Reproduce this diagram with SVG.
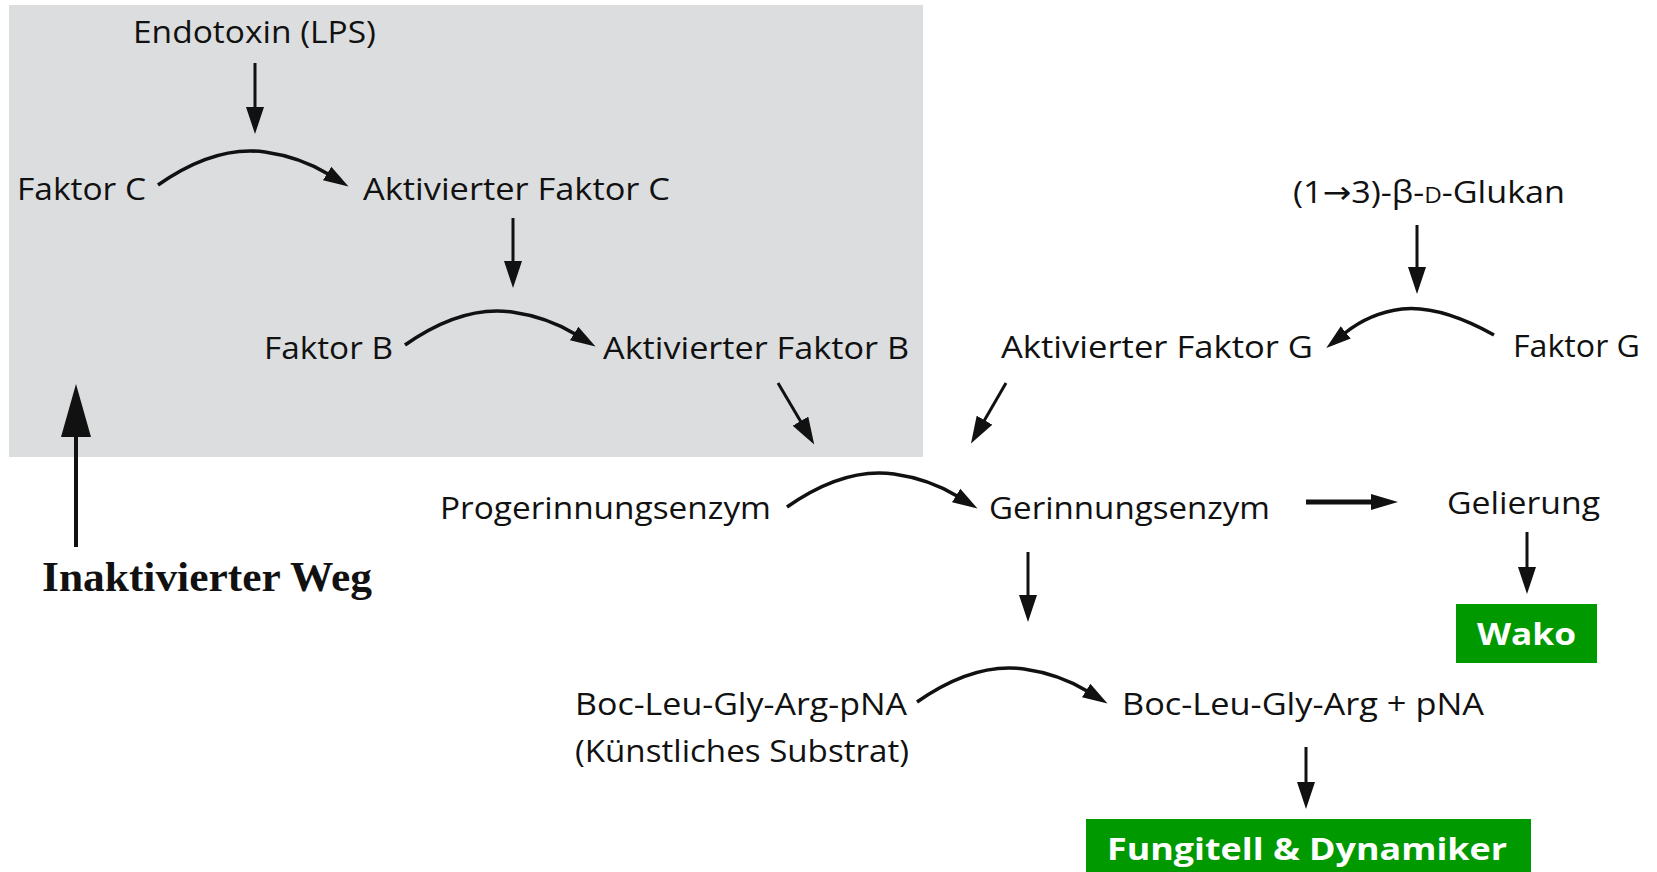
<svg xmlns="http://www.w3.org/2000/svg" width="1657" height="872" viewBox="0 0 1657 872">
<style>
.t{font-family:"Open Sans","Noto Sans","DejaVu Sans",sans-serif;font-size:31px;fill:#111;}
.b{font-family:"Open Sans","Noto Sans","DejaVu Sans",sans-serif;font-size:31px;font-weight:bold;fill:#fff;}
.s{font-family:"Liberation Serif","Times New Roman",serif;font-size:43px;font-weight:bold;fill:#111;}
.ln{fill:none;stroke:#111;stroke-width:3;}
.cv{fill:none;stroke:#111;stroke-width:3.5;}
.box{fill:#009a00;}
</style>
<defs>
<marker id="ah" markerUnits="userSpaceOnUse" markerWidth="28" markerHeight="18" refX="1" refY="9" orient="auto"><path d="M0,0 L27,9 L0,18 z" fill="#111"/></marker>
<marker id="ahc" markerUnits="userSpaceOnUse" markerWidth="27" markerHeight="18" refX="1" refY="9" orient="auto"><path d="M0,1 L25,9 L0,17 z" fill="#111"/></marker>
<marker id="ahb" markerUnits="userSpaceOnUse" markerWidth="54" markerHeight="30" refX="1" refY="15" orient="auto"><path d="M0,0 L53,15 L0,30 z" fill="#111"/></marker>
<marker id="aht" markerUnits="userSpaceOnUse" markerWidth="28" markerHeight="16" refX="1" refY="8" orient="auto"><path d="M0,0 L27,8 L0,16 z" fill="#111"/></marker>
</defs>
<rect id="inactive-area" x="9" y="5" width="914" height="452" fill="#dcdddf"/>
<g id="connectors">
<path class="ln" d="M255,63 V108" marker-end="url(#ah)"/>
<path class="ln" d="M513,218 V262" marker-end="url(#ah)"/>
<path class="ln" d="M778,383 L801,422" marker-end="url(#ah)"/>
<path class="ln" d="M1417,225 V268" marker-end="url(#ah)"/>
<path class="ln" d="M1006,383 L984,421" marker-end="url(#ah)"/>
<path class="ln" d="M1028,552 V596" marker-end="url(#ah)"/>
<path class="ln" d="M1527,532 V568" marker-end="url(#ah)"/>
<path class="ln" d="M1306,747 V783" marker-end="url(#ah)"/>
<path class="ln" style="stroke-width:5" d="M1306,502 H1372" marker-end="url(#aht)"/>
<path class="ln" style="stroke-width:4" d="M76,547 V436" marker-end="url(#ahb)"/>
<path class="cv" d="M158,185 Q215,145 265,152 Q300,157 328,174" marker-end="url(#ahc)"/>
<path class="cv" d="M405,345 Q462,305 512,312 Q547,317 575,334" marker-end="url(#ahc)"/>
<path class="cv" d="M787,507 Q844,467 894,474 Q929,479 957,496" marker-end="url(#ahc)"/>
<path class="cv" d="M917,702 Q974,662 1024,669 Q1059,674 1087,691" marker-end="url(#ahc)"/>
<path class="cv" d="M1494,335 Q1440,305 1402,309 Q1370,313 1345,333" marker-end="url(#ahc)"/>
</g>
<g id="endotoxin"><text class="t" x="133" y="43" textLength="243" lengthAdjust="spacingAndGlyphs">Endotoxin (LPS)</text></g>
<g id="faktor-c"><text class="t" x="17" y="200" textLength="129" lengthAdjust="spacingAndGlyphs">Faktor C</text></g>
<g id="akt-faktor-c"><text class="t" x="363" y="200" textLength="307" lengthAdjust="spacingAndGlyphs">Aktivierter Faktor C</text></g>
<g id="faktor-b"><text class="t" x="264" y="359" textLength="129" lengthAdjust="spacingAndGlyphs">Faktor B</text></g>
<g id="akt-faktor-b"><text class="t" x="603" y="359" textLength="306" lengthAdjust="spacingAndGlyphs">Aktivierter Faktor B</text></g>
<g id="glukan"><text class="t" x="1293" y="203" textLength="272" lengthAdjust="spacingAndGlyphs">(1→3)-β-<tspan font-size="22">D</tspan>-Glukan</text></g>
<g id="akt-faktor-g"><text class="t" x="1001" y="358" textLength="312" lengthAdjust="spacingAndGlyphs">Aktivierter Faktor G</text></g>
<g id="faktor-g"><text class="t" x="1513" y="357" textLength="127" lengthAdjust="spacingAndGlyphs">Faktor G</text></g>
<g id="progerinnungsenzym"><text class="t" x="440" y="519" textLength="331" lengthAdjust="spacingAndGlyphs">Progerinnungsenzym</text></g>
<g id="gerinnungsenzym"><text class="t" x="989" y="519" textLength="281" lengthAdjust="spacingAndGlyphs">Gerinnungsenzym</text></g>
<g id="gelierung"><text class="t" x="1447" y="514" textLength="153" lengthAdjust="spacingAndGlyphs">Gelierung</text></g>
<g id="substrat">
<text class="t" x="575" y="715" textLength="332" lengthAdjust="spacingAndGlyphs">Boc-Leu-Gly-Arg-pNA</text>
<text class="t" x="575" y="762" textLength="334" lengthAdjust="spacingAndGlyphs">(Künstliches Substrat)</text>
</g>
<g id="produkt"><text class="t" x="1122" y="715" textLength="362" lengthAdjust="spacingAndGlyphs">Boc-Leu-Gly-Arg + pNA</text></g>
<g id="wako"><rect class="box" x="1456" y="604" width="141" height="59"/><text class="b" x="1477" y="645" textLength="99" lengthAdjust="spacingAndGlyphs">Wako</text></g>
<g id="fungitell"><rect class="box" x="1086" y="819" width="445" height="53"/><text class="b" x="1107" y="860" font-size="32" textLength="400" lengthAdjust="spacingAndGlyphs">Fungitell &amp; Dynamiker</text></g>
<g id="inaktivierter-weg"><text class="s" x="42" y="591" textLength="330" lengthAdjust="spacingAndGlyphs">Inaktivierter Weg</text></g>
</svg>
